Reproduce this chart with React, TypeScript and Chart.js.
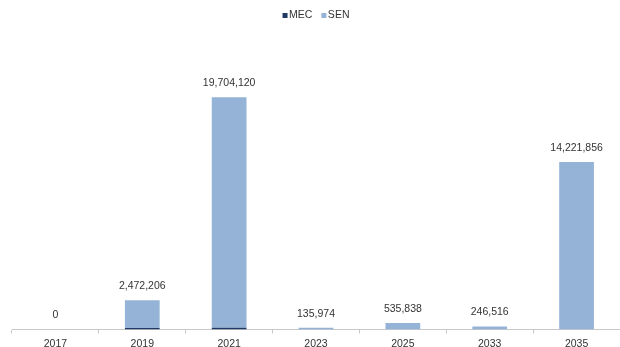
import React, { useEffect, useRef } from "react";
import { Chart, registerables } from "chart.js";

Chart.register(...registerables);

const categories = ["2017", "2019", "2021", "2023", "2025", "2033", "2035"];
const seriesNames = ["MEC", "SEN"];
const seriesColors = ["#1F3864", "#95B3D7"];
const mecValues = [0, 110000, 130000, 0, 0, 0, 0];
const senValues = [0, 2362206, 19574120, 135974, 535838, 246516, 14221856];
const totalLabels = ["0", "2,472,206", "19,704,120", "135,974", "535,838", "246,516", "14,221,856"];

const FONT = "'Liberation Sans', Arial, sans-serif";
const FSIZE = 10.5;

const labelPlugin = {
  id: "totalLabels",
  afterDatasetsDraw(chart: any) {
    const ctx = chart.ctx;
    const meta = chart.getDatasetMeta(1);
    ctx.save();
    ctx.font = `${FSIZE}px ${FONT}`;
    ctx.fillStyle = "#333333";
    ctx.textAlign = "center";
    ctx.textBaseline = "middle";
    meta.data.forEach((bar: any, i: number) => {
      ctx.fillText(totalLabels[i], bar.x, bar.y - 14);
    });
    // custom legend
    const area = chart.chartArea;
    const cx = (area.left + area.right) / 2;
    const y = 15.5;
    ctx.textAlign = "left";
    const box = 5;
    const gap = 1.5;
    const between = 9;
    const widths = seriesNames.map((n) => box + gap + ctx.measureText(n).width);
    const total = widths.reduce((a, b) => a + b, 0) + between * (seriesNames.length - 1);
    let x = cx - total / 2;
    seriesNames.forEach((n, i) => {
      ctx.fillStyle = seriesColors[i];
      ctx.fillRect(x, y - box / 2, box, box);
      ctx.fillStyle = "#333333";
      ctx.fillText(n, x + box + gap, y);
      x += widths[i] + between;
    });
    ctx.restore();
  },
};

export default function App() {
  const ref = useRef<HTMLCanvasElement>(null);
  useEffect(() => {
    document.body.style.margin = "0";
    const chart = new Chart(ref.current!, {
      type: "bar",
      data: {
        labels: categories,
        datasets: [
          { label: seriesNames[0], data: mecValues, backgroundColor: seriesColors[0], barPercentage: 0.4, categoryPercentage: 1 },
          { label: seriesNames[1], data: senValues, backgroundColor: seriesColors[1], barPercentage: 0.4, categoryPercentage: 1 },
        ],
      },
      options: {
        animation: false,
        responsive: false,
        maintainAspectRatio: false,
        layout: { padding: { left: 12, right: 0, top: 35, bottom: 0 } },
        plugins: {
          legend: { display: false },
          tooltip: { enabled: false },
        },
        scales: {
          x: {
            stacked: true,
            offset: true,
            grid: { display: true, drawOnChartArea: false, offset: true, tickLength: 4, color: "#c8c8c8" },
            border: { display: true, color: "#c8c8c8" },
            ticks: { color: "#333333", font: { family: FONT, size: FSIZE }, padding: 4 },
          },
          y: { stacked: true, display: false, min: 0, max: 25000000 },
        },
      },
      plugins: [labelPlugin],
    });
    return () => chart.destroy();
  }, []);
  return (
    <div style={{ width: 620, height: 347, overflow: "hidden" }}>
      <canvas ref={ref} width={620} height={354} style={{ display: "block" }} />
    </div>
  );
}
